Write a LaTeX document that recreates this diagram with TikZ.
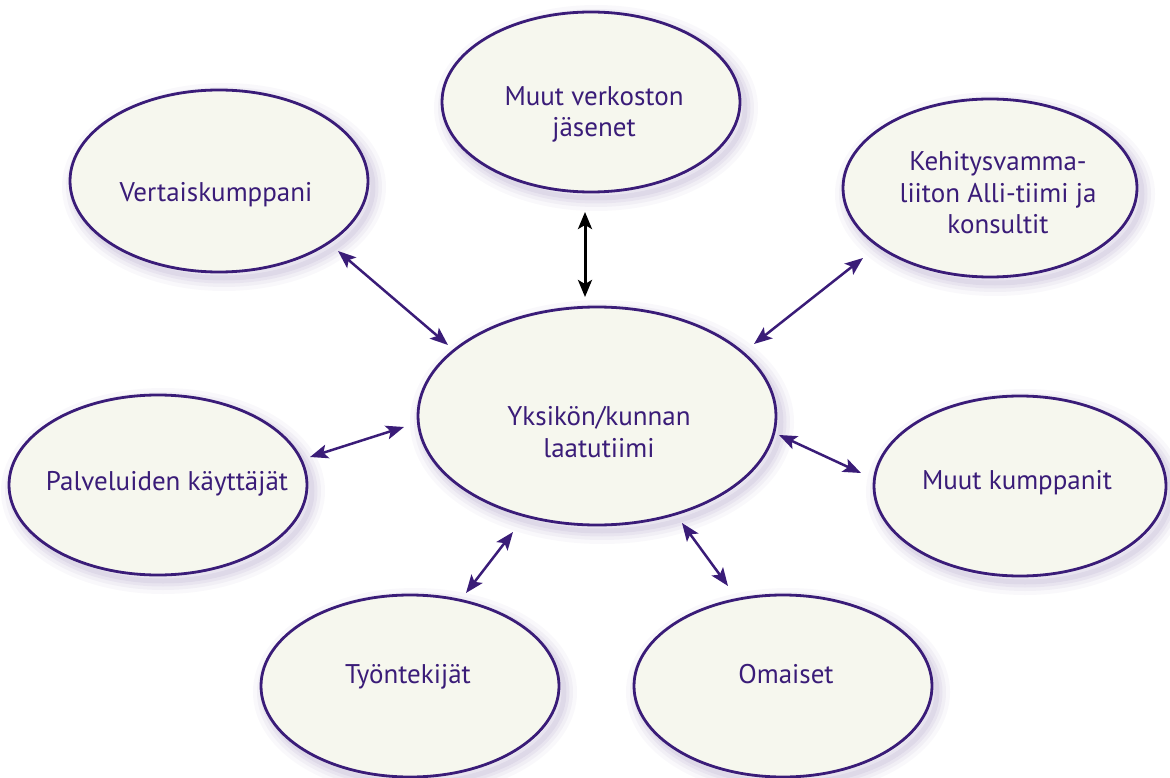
\documentclass[tikz,border=0pt]{standalone}
\usepackage{fontspec}
\setmainfont{PT Sans}
\usetikzlibrary{shapes.geometric,arrows.meta}
\definecolor{pur}{HTML}{3A1C78}
\definecolor{cream}{HTML}{F6F7EE}
\tikzset{
  x=1pt, y=-1pt,
  bub/.style={ellipse, draw=pur, line width=2.8pt, fill=cream, inner sep=0pt,
    preaction={draw=pur, draw opacity=0.03, line width=26pt, transform canvas={xshift=5pt,yshift=-6pt}},
    preaction={draw=pur, draw opacity=0.04, line width=18pt, transform canvas={xshift=5pt,yshift=-6pt}},
    preaction={draw=pur, draw opacity=0.05, line width=11pt, transform canvas={xshift=5pt,yshift=-6pt}},
    preaction={draw=pur, draw opacity=0.06, line width=5pt, transform canvas={xshift=5pt,yshift=-6pt}}},
  lbl/.style={text=pur, font=\fontsize{27}{31.5}\selectfont, align=center, anchor=base, inner sep=0pt},
  arr/.style={draw=pur, line width=2.5pt, {Stealth[length=18pt,width=14pt,inset=4pt]}-{Stealth[length=18pt,width=14pt,inset=4pt]}},
  barr/.style={draw=black, line width=3pt, {Stealth[length=17pt,width=14pt,inset=4pt]}-{Stealth[length=17pt,width=14pt,inset=4pt]}},
}
\begin{document}
\begin{tikzpicture}
\useasboundingbox (0,0) rectangle (1170,778);
% ellipses
\node[bub, minimum width=358pt, minimum height=218pt] (cen) at (597,416) {};
\node[bub, minimum width=298pt, minimum height=180pt] (top) at (591,102) {};
\node[bub, minimum width=298pt, minimum height=182pt] (ver) at (219,181) {};
\node[bub, minimum width=294pt, minimum height=178pt] (keh) at (990,188) {};
\node[bub, minimum width=298pt, minimum height=180pt] (pal) at (158,485) {};
\node[bub, minimum width=292pt, minimum height=180pt] (muk) at (1020,486) {};
\node[bub, minimum width=298pt, minimum height=182pt] (tyo) at (410,686) {};
\node[bub, minimum width=298pt, minimum height=182pt] (oma) at (783,686) {};
% labels (base = baseline of the last line)
\node[lbl] (cenT) at (599,457) {Yksikön/kunnan\\laatutiimi};
\node[lbl] (topT) at (594,137) {Muut verkoston\\jäsenet};
\node[lbl] (verT) at (216,202) {Vertaiskumppani};
\node[lbl] (kehT) at (998,234) {Kehitysvamma-\\liiton Alli-tiimi ja\\konsultit};
\node[lbl] (palT) at (167,490) {Palveluiden käyttäjät};
\node[lbl] (mukT) at (1017,489) {Muut kumppanit};
\node[lbl] (tyoT) at (408,683) {Työntekijät};
\node[lbl] (omaT) at (786,683) {Omaiset};
% connector end points
\coordinate (t1) at (585,212); \coordinate (t2) at (585,297);
\coordinate (v1) at (338,251); \coordinate (v2) at (448,345);
\coordinate (k1) at (863,258); \coordinate (k2) at (754,344);
\coordinate (p1) at (310,457); \coordinate (p2) at (404,427);
\coordinate (m1) at (779,435); \coordinate (m2) at (861,473);
\coordinate (y1) at (466,593); \coordinate (y2) at (513,532);
\coordinate (o1) at (682,523); \coordinate (o2) at (728,586);
% connectors
\draw[barr] (t1) -- (t2);
\draw[arr] (v1) -- (v2);
\draw[arr] (k1) -- (k2);
\draw[arr] (p1) -- (p2);
\draw[arr] (m1) -- (m2);
\draw[arr] (y1) -- (y2);
\draw[arr] (o1) -- (o2);
\end{tikzpicture}
\end{document}
